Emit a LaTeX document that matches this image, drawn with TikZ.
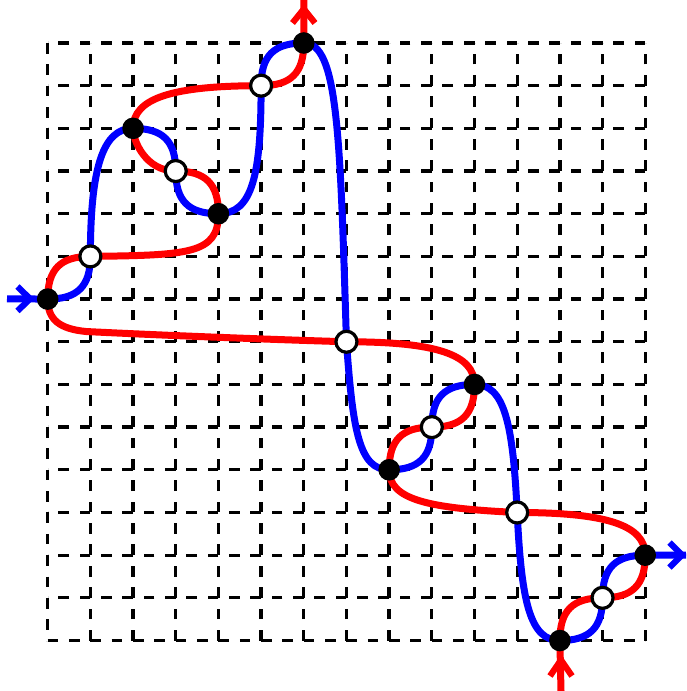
\documentclass[tikz,border=0pt]{standalone}
\tikzset{
  gridline/.style={line width=3.3pt,black,dash pattern=on 10.67pt off 10.67pt},
  blueline/.style={line width=7pt,draw={rgb,255:red,0;green,0;blue,255}},
  redline/.style={line width=7pt,draw={rgb,255:red,255;green,0;blue,0}},
  chevron/.style={line width=6.2pt},
  blackdot/.style={circle,fill=black,draw=none,minimum size=21.6pt,inner sep=0pt,outer sep=0pt},
  whitedot/.style={circle,fill=white,draw=black,line width=3.2pt,minimum size=21pt,inner sep=0pt},
}
\begin{document}
\begin{tikzpicture}
\useasboundingbox (0,0) rectangle (686pt,-691pt);
\begin{scope}[shift={(47.7pt,-43pt)},x=42.68pt,y=-42.68pt]
% grid
\foreach \i in {1,...,14} \draw[gridline] (\i,14) -- (\i,0);
\draw[gridline] (0,0) -- (0,14);
\foreach \j in {0,...,13} \draw[gridline] (14,\j) -- (0,\j);
\draw[gridline] (0,14) -- (14,14);
% vertices
\coordinate (A) at (6,0);
\coordinate (B) at (2,2);
\coordinate (C) at (4,4);
\coordinate (D) at (0,6);
\coordinate (E) at (10,8);
\coordinate (F) at (8,10);
\coordinate (G) at (14,12);
\coordinate (H) at (12,14);
\coordinate (a) at (5,1);
\coordinate (b) at (3,3);
\coordinate (c) at (1,5);
\coordinate (d) at (7,7);
\coordinate (e) at (9,9);
\coordinate (f) at (11,11);
\coordinate (g) at (13,13);
\coordinate (X) at (0.9,6.76);
% blue strand
\draw[blueline,line join=round]
 (D) .. controls (0.7,6) and (1,5.7) .. (c)
 .. controls (1,2.9) and (1.3,2) .. (B)
 .. controls (2.7,2) and (3,2.3) .. (b)
 .. controls (3,3.7) and (3.3,4) .. (C)
 .. controls (4.8,4) and (5,3.1) .. (a)
 .. controls (5,0.3) and (5.3,0) .. (A)
 .. controls (6.8,0) and (6.85,2.1) .. (d)
 .. controls (7.15,9.1) and (7.3,10) .. (F)
 .. controls (8.7,10) and (9,9.7) .. (e)
 .. controls (9,8.3) and (9.3,8) .. (E)
 .. controls (10.7,8) and (10.9,8.9) .. (f)
 .. controls (11.1,13.1) and (11.3,14) .. (H)
 .. controls (12.7,14) and (13,13.7) .. (g)
 .. controls (13,12.3) and (13.3,12) .. (G);
% red strand
\draw[redline,line join=round]
 (H) .. controls (12,13.3) and (12.3,13) .. (g)
 .. controls (13.7,13) and (14,12.7) .. (G)
 .. controls (14,11.3) and (13.1,11) .. (f)
 .. controls (8.9,10.9) and (8,10.7) .. (F)
 .. controls (8,9.3) and (8.3,9) .. (e)
 .. controls (9.7,9) and (10,8.7) .. (E)
 .. controls (10,7.3) and (9.1,7) .. (d)
 .. controls (5,6.94) and (2.5,6.84) .. (X)
 .. controls (0.3,6.7) and (0,6.5) .. (D)
 .. controls (0,5.3) and (0.3,5) .. (c)
 .. controls (3.3,4.97) and (4,4.95) .. (C)
 .. controls (4,3.3) and (3.7,3) .. (b)
 .. controls (2.3,3) and (2,2.3) .. (B)
 .. controls (2,1.3) and (2.9,1) .. (a)
 .. controls (5.7,1) and (6,0.7) .. (A);
\end{scope}
% free ends and arrows
\coordinate (inblue) at (7pt,-298.8pt);
\coordinate (outblue) at (686pt,-555pt);
\coordinate (inred) at (561pt,-691pt);
\coordinate (outred) at (303.8pt,0pt);
\draw[blueline] (inblue) -- (D);
\draw[blueline] (G) -- (outblue);
\draw[redline] (inred) -- (H);
\draw[redline] (A) -- (outred);
\draw[blueline,chevron,line join=miter] (17.5pt,-286.5pt) -- (30pt,-298.8pt) -- (17.5pt,-311pt);
\draw[blueline,chevron,line join=miter] (669.5pt,-542.5pt) -- (682pt,-555pt) -- (669.5pt,-567.5pt);
\draw[redline,chevron,line join=miter] (550pt,-676pt) -- (561pt,-660pt) -- (572pt,-676pt);
\draw[redline,chevron,line join=miter] (292.5pt,-23pt) -- (303.8pt,-9pt) -- (315pt,-23pt);
% dots
\foreach \n in {A,B,C,D,E,F,G,H} \node[blackdot] (dot\n) at (\n) {};
\foreach \n in {a,b,c,d,e,f,g} \node[whitedot] (dot\n) at (\n) {};
\end{tikzpicture}
\end{document}
